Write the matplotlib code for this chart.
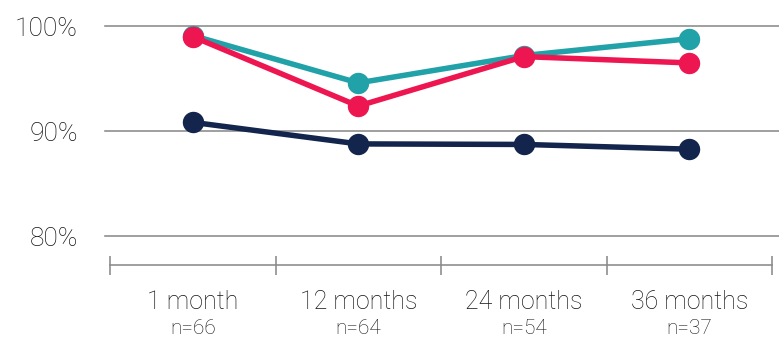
import matplotlib
matplotlib.use("Agg")
import matplotlib.pyplot as plt

categories = ["1 month", "12 months", "24 months", "36 months"]
sample_sizes = ["n=66", "n=64", "n=54", "n=37"]
teal_values = [99.1, 94.6, 97.2, 98.8]
pink_values = [99.0, 92.4, 97.1, 96.5]
navy_values = [90.85, 88.8, 88.75, 88.3]
y_ticks = [80, 90, 100]
y_tick_labels = ["80%", "90%", "100%"]

W, H = 779, 338
fig = plt.figure(figsize=(W / 100, H / 100), dpi=100)
ax = fig.add_axes([110 / W, (H - 265) / H, (772 - 110) / W, 265 / H])

font = "Roboto"
weight = "light"
text_color = "#141414"
px = 72 / 100  # points per pixel

ax.set_xlim(-0.5, len(categories) - 0.5)
ax.set_ylim(77.29, 102.48)

for y in y_ticks:
    ax.axhline(y, xmin=-0.0076, xmax=1.0106, color="#8a8a8a", lw=1.6 * px, clip_on=False, zorder=1)

x = list(range(len(categories)))
ms = 20 * px
lw = 5.5 * px
ax.plot(x, navy_values, color="#13254d", lw=lw, marker="o", ms=ms, zorder=3, solid_capstyle="butt")
ax.plot(x, teal_values, color="#21a1a8", lw=lw, marker="o", ms=ms, zorder=4, solid_capstyle="butt")
ax.plot(x, pink_values, color="#ee1651", lw=lw, marker="o", ms=ms, zorder=5, solid_capstyle="butt")

for s in ["top", "right", "left"]:
    ax.spines[s].set_visible(False)
ax.spines["bottom"].set_color("#8a8a8a")
ax.spines["bottom"].set_linewidth(1.6 * px)

ax.set_xticks([i - 0.5 for i in range(len(categories) + 1)])
ax.set_xticklabels([])
ax.tick_params(axis="x", direction="inout", length=19 * px, width=1.6 * px, color="#8a8a8a")

ax.set_yticks(y_ticks)
ax.set_yticklabels(y_tick_labels, fontfamily=font, fontweight=weight, fontsize=19, color=text_color)
ax.tick_params(axis="y", length=0, pad=32 * px)

for i, (c, n) in enumerate(zip(categories, sample_sizes)):
    ax.annotate(c, xy=(i, 0), xycoords=("data", "axes fraction"), xytext=(0, -37 * px),
                textcoords="offset points", ha="center", va="center",
                fontfamily=font, fontweight=weight, fontsize=18, color=text_color)
    ax.annotate(n, xy=(i, 0), xycoords=("data", "axes fraction"), xytext=(0, -64 * px),
                textcoords="offset points", ha="center", va="center",
                fontfamily=font, fontweight=weight, fontsize=15, color=text_color)

fig.savefig("out.png", dpi=100)
